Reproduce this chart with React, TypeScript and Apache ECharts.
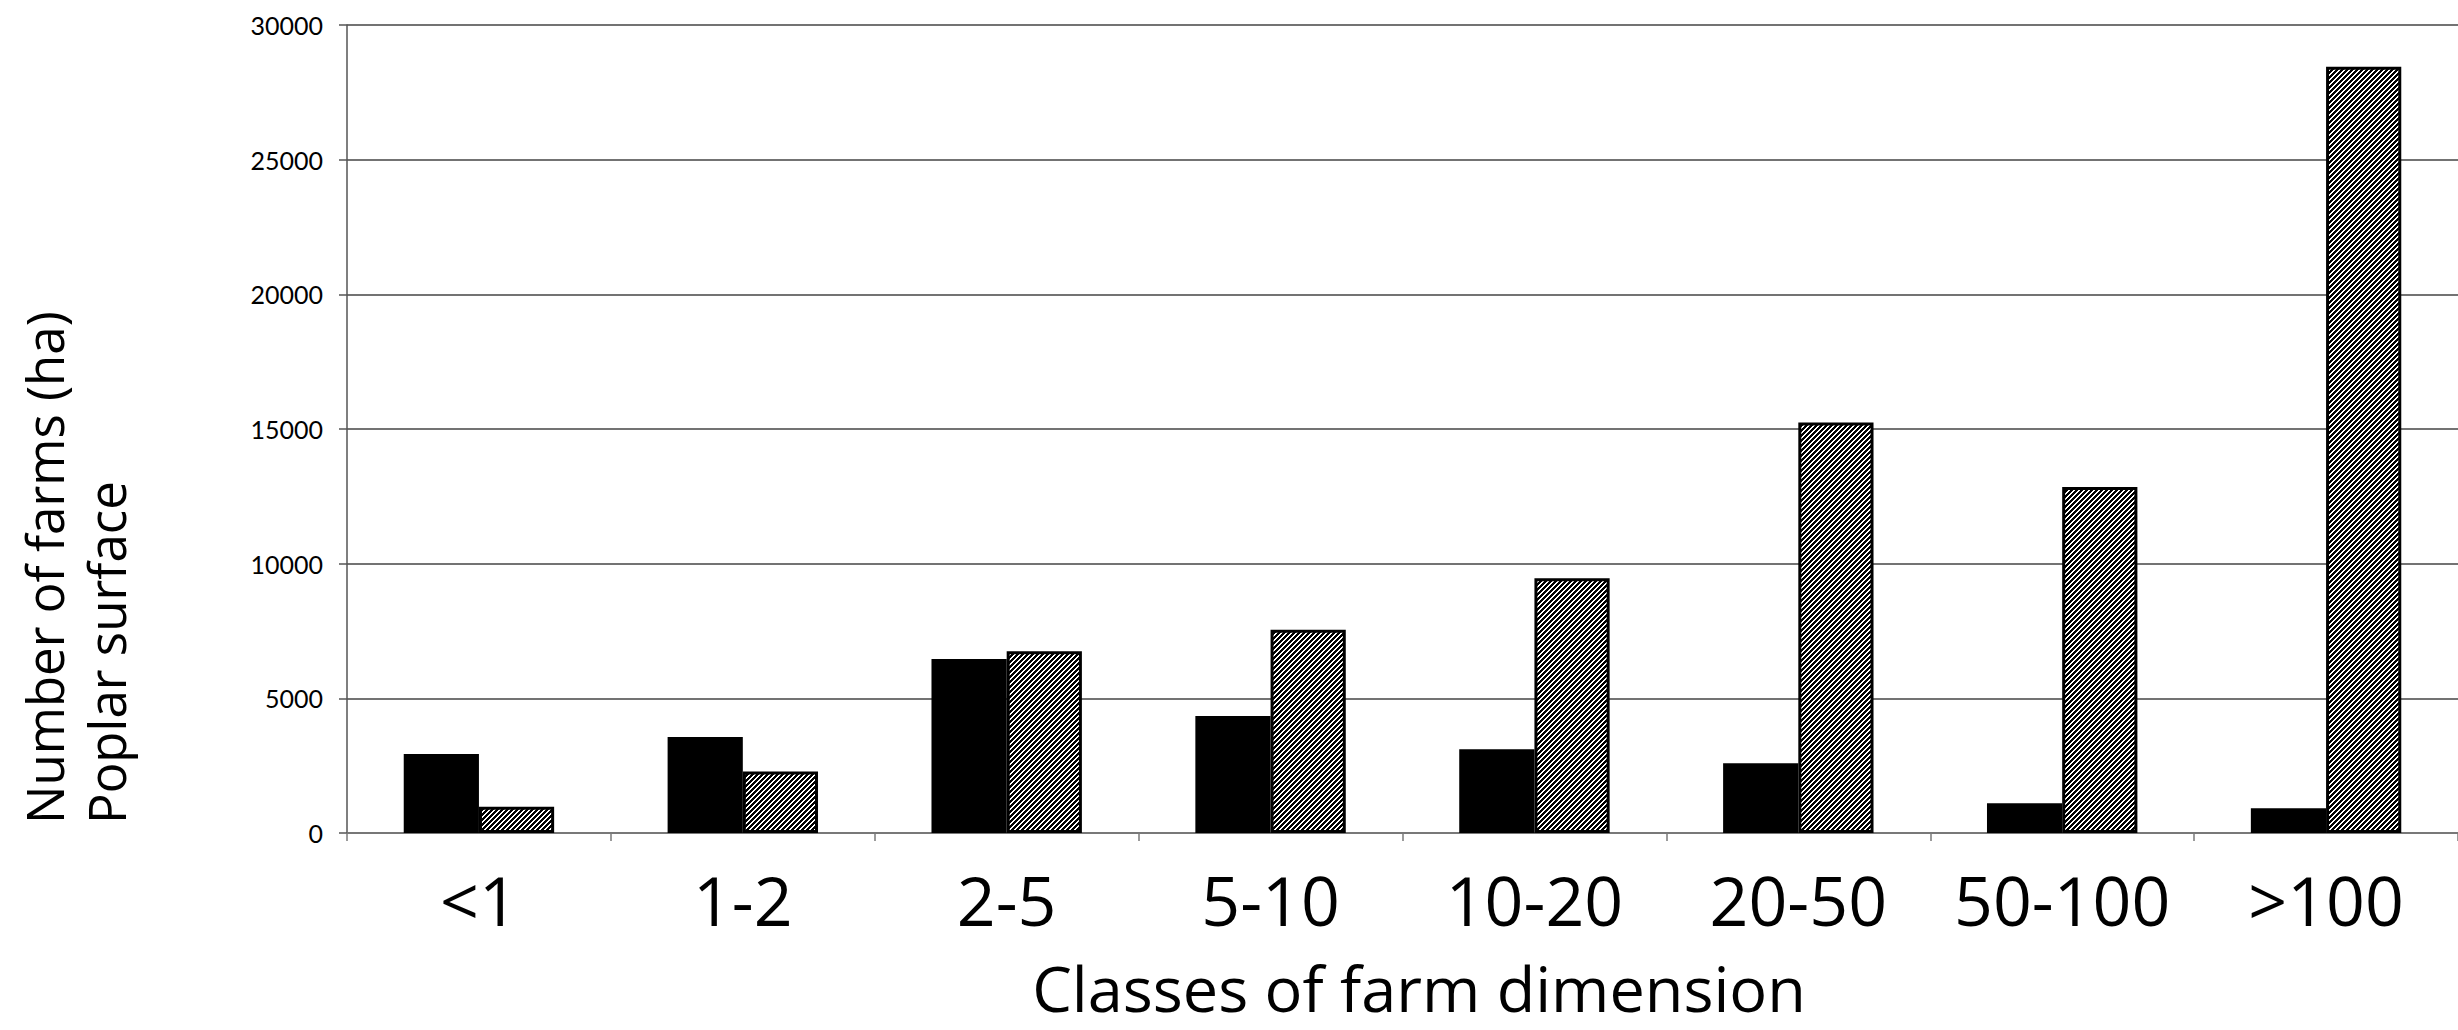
import React, { useEffect, useRef } from "react";
import * as echarts from "echarts";

const categories = ["<1", "1-2", "2-5", "5-10", "10-20", "20-50", "50-100", ">100"];
const numberOfFarms = [2930, 3560, 6460, 4340, 3110, 2590, 1100, 920];
const poplarSurface = [970, 2280, 6750, 7550, 9460, 15240, 12850, 28450];
const yTicks = { min: 0, max: 30000, interval: 5000 };
const yTitleLines = ["Number of farms (ha)", "Poplar surface"];
const xTitle = "Classes of farm dimension";

function makeHatch(): HTMLCanvasElement {
  const p = 5;
  const c = document.createElement("canvas");
  c.width = p;
  c.height = p;
  const ctx = c.getContext("2d")!;
  ctx.fillStyle = "#ffffff";
  ctx.fillRect(0, 0, p, p);
  ctx.fillStyle = "#000000";
  for (let x = 0; x < p; x++) {
    for (let y = 0; y < p; y++) {
      if ((x + y) % p < 3) ctx.fillRect(x, y, 1, 1);
    }
  }
  return c;
}

export default function App() {
  const ref = useRef<HTMLDivElement>(null);
  useEffect(() => {
    if (!ref.current) return;
    const chart = echarts.init(ref.current, undefined, { renderer: "svg" });
    const hatch = makeHatch();
    const option: any = {
      animation: false,
      backgroundColor: "#ffffff",
      grid: { left: 347, top: 25, right: -9, bottom: 197, containLabel: false },
      xAxis: {
        type: "category",
        data: categories,
        boundaryGap: true,
        axisLine: { show: true, lineStyle: { color: "#7a7a7a", width: 1.5 } },
        axisTick: { show: true, length: 8, alignWithLabel: false, lineStyle: { color: "#7a7a7a", width: 1.5 } },
        axisLabel: {
          show: true,
          interval: 0,
          margin: 32,
          fontSize: 68,
          fontFamily: "Open Sans",
          color: "#000000",
        },
        splitLine: { show: false },
      },
      yAxis: {
        type: "value",
        min: yTicks.min,
        max: yTicks.max,
        interval: yTicks.interval,
        axisLine: { show: true, lineStyle: { color: "#555555", width: 1.5 } },
        axisTick: { show: true, length: 8, lineStyle: { color: "#555555", width: 1.5 } },
        axisLabel: {
          margin: 24,
          fontSize: 25,
          fontFamily: "Lato",
          color: "#000000",
          formatter: (v: number) => String(v),
        },
        splitLine: { show: true, lineStyle: { color: "#444444", width: 1.5 } },
      },
      series: [
        {
          name: "Number of farms",
          type: "bar",
          data: numberOfFarms,
          barGap: "0%",
          barCategoryGap: "43%",
          itemStyle: { color: "#000000" },
        },
        {
          name: "Poplar surface",
          type: "bar",
          data: poplarSurface,
          barGap: "0%",
          barCategoryGap: "43%",
          itemStyle: {
            color: { image: hatch, repeat: "repeat", imageWidth: 5, imageHeight: 5 },
            borderColor: "#000000",
            borderWidth: 3,
          },
        },
      ],
      graphic: [
        {
          type: "text",
          x: 43.5,
          y: 824,
          rotation: Math.PI / 2,
          style: {
            text: yTitleLines[0],
            fontSize: 51,
            fontFamily: "Open Sans",
            fill: "#000000",
            textAlign: "left",
            textVerticalAlign: "middle",
          },
        },
        {
          type: "text",
          x: 106,
          y: 824,
          rotation: Math.PI / 2,
          style: {
            text: yTitleLines[1],
            fontSize: 51,
            fontFamily: "Open Sans",
            fill: "#000000",
            textAlign: "left",
            textVerticalAlign: "middle",
          },
        },
        {
          type: "text",
          x: 1419,
          y: 987,
          style: {
            text: xTitle,
            fontSize: 63,
            fontFamily: "Open Sans",
            fill: "#000000",
            textAlign: "center",
            textVerticalAlign: "middle",
          },
        },
      ],
    };
    chart.setOption(option);
    return () => chart.dispose();
  }, []);
  return (
    <div
      ref={ref}
      style={{ position: "fixed", left: 0, top: 0, width: 2458, height: 1030, background: "#fff" }}
    />
  );
}
